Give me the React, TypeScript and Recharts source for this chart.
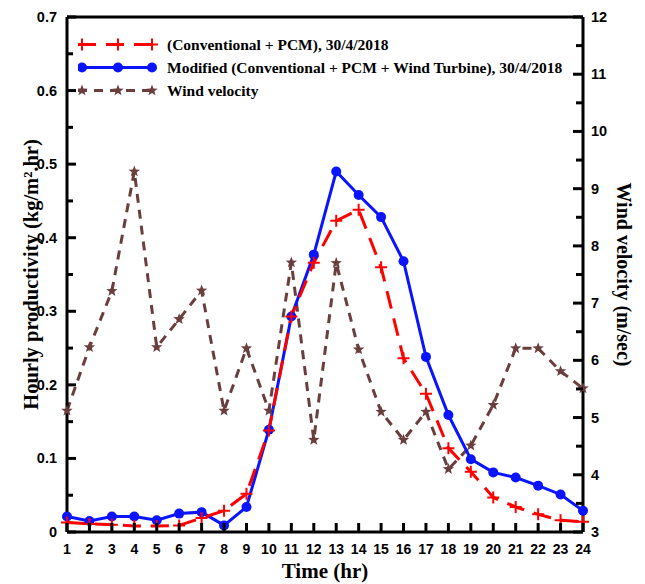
import { LineChart, Line, XAxis, YAxis, Legend, ReferenceLine } from "recharts";

const hours = [1, 2, 3, 4, 5, 6, 7, 8, 9, 10, 11, 12, 13, 14, 15, 16, 17, 18, 19, 20, 21, 22, 23, 24];
const conventional = [0.013, 0.011, 0.01, 0.008, 0.008, 0.009, 0.019, 0.029, 0.052, 0.138, 0.293, 0.366, 0.423, 0.438, 0.36, 0.236, 0.188, 0.114, 0.082, 0.047, 0.034, 0.024, 0.016, 0.014];
const modified = [0.021, 0.015, 0.021, 0.021, 0.016, 0.025, 0.027, 0.009, 0.034, 0.139, 0.293, 0.377, 0.49, 0.458, 0.428, 0.368, 0.238, 0.159, 0.099, 0.081, 0.074, 0.063, 0.051, 0.029];
const windVelocity = [5.12, 6.23, 7.21, 9.3, 6.23, 6.72, 7.22, 5.12, 6.21, 5.12, 7.71, 4.61, 7.7, 6.19, 5.1, 4.61, 5.1, 4.1, 4.51, 5.22, 6.21, 6.21, 5.81, 5.51];

const leftTicks = [0, 0.05, 0.1, 0.15, 0.2, 0.25, 0.3, 0.35, 0.4, 0.45, 0.5, 0.55, 0.6, 0.65, 0.7];
const rightTicks = [3, 3.5, 4, 4.5, 5, 5.5, 6, 6.5, 7, 7.5, 8, 8.5, 9, 9.5, 10, 10.5, 11, 11.5, 12];

const RED = "#ff0000";
const BLUE = "#0a14ff";
const BROWN = "#6b3e3e";
const SANS = "'Liberation Sans', Arial, sans-serif";
const SERIF = "'Liberation Serif', 'Times New Roman', serif";

const data = hours.map((h, i) => ({
  hour: h,
  conventional: conventional[i],
  modified: modified[i],
  wind: windVelocity[i],
}));

const isLeftMajor = (v: number) => Math.round(v * 100) % 10 === 0;

const starPoints = (cx: number, cy: number, r: number) => {
  const pts: string[] = [];
  for (let i = 0; i < 10; i++) {
    const rad = i % 2 === 0 ? r : r * 0.42;
    const a = -Math.PI / 2 + (i * Math.PI) / 5;
    pts.push(`${cx + rad * Math.cos(a)},${cy + rad * Math.sin(a)}`);
  }
  return pts.join(" ");
};

const PlusDot = (props: any) => {
  const { cx, cy, index } = props;
  if (cx == null || cy == null) return <g key={`p${index}`} />;
  return (
    <path
      key={`p${index}`}
      d={`M${cx - 6},${cy} h12 M${cx},${cy - 6} v12`}
      stroke={RED}
      strokeWidth={2}
      fill="none"
    />
  );
};

const StarDot = (props: any) => {
  const { cx, cy, index } = props;
  if (cx == null || cy == null) return <g key={`s${index}`} />;
  return <polygon key={`s${index}`} points={starPoints(cx, cy, 6)} fill={BROWN} />;
};

// tickLine is off; each tick draws its own inward mark (long on whole steps, short on half steps)
const LeftTick = (props: any) => {
  const x = Number(props.x);
  const y = Number(props.y);
  const v = Number(props.payload.value);
  const major = isLeftMajor(v);
  const axisX = x + 10;
  return (
    <g>
      <path d={`M${axisX},${y} H${axisX + (major ? 9 : 6)}`} stroke="#000" strokeWidth={3} />
      {major && (
        <text x={x} y={y} dy={5} textAnchor="end" fontFamily={SANS} fontWeight="bold" fontSize={14.5} fill="#000">
          {Number(v.toFixed(1)).toString()}
        </text>
      )}
    </g>
  );
};

const RightTick = (props: any) => {
  const x = Number(props.x);
  const y = Number(props.y);
  const v = Number(props.payload.value);
  const major = Number.isInteger(v);
  const axisX = x - 8;
  return (
    <g>
      <path d={`M${axisX},${y} H${axisX - (major ? 10 : 7)}`} stroke="#000" strokeWidth={3} />
      {major && (
        <text x={x} y={y} dy={5} textAnchor="start" fontFamily={SANS} fontWeight="bold" fontSize={14.5} fill="#000">
          {v}
        </text>
      )}
    </g>
  );
};

const BottomTick = (props: any) => {
  const x = Number(props.x);
  const y = Number(props.y);
  const axisY = y - 10;
  return (
    <g>
      <path d={`M${x},${axisY} V${axisY - 9}`} stroke="#000" strokeWidth={3} />
      <text x={x} y={y} dy={12} textAnchor="middle" fontFamily={SANS} fontWeight="bold" fontSize={14} fill="#000">
        {props.payload.value}
      </text>
    </g>
  );
};

const legendItems = [
  { label: "(Conventional + PCM), 30/4/2018", kind: "plus" },
  { label: "Modified (Conventional + PCM + Wind Turbine), 30/4/2018", kind: "circle" },
  { label: "Wind velocity", kind: "star" },
];

const LegendSample = ({ kind }: { kind: string }) => {
  const marks = [4, 40, 74];
  return (
    <svg width={80} height={23} style={{ display: "block" }}>
      {kind === "plus" && (
        <>
          <line x1={0} x2={78} y1={11.5} y2={11.5} stroke={RED} strokeWidth={3} strokeDasharray="18 10" />
          {marks.map((m) => (
            <path key={m} d={`M${m - 6},11.5 h12 M${m},5.5 v12`} stroke={RED} strokeWidth={2} />
          ))}
        </>
      )}
      {kind === "circle" && (
        <>
          <line x1={4} x2={76} y1={11.5} y2={11.5} stroke={BLUE} strokeWidth={3} />
          {marks.map((m) => (
            <circle key={m} cx={m} cy={11.5} r={5} fill={BLUE} />
          ))}
        </>
      )}
      {kind === "star" && (
        <>
          <line x1={0} x2={78} y1={11.5} y2={11.5} stroke={BROWN} strokeWidth={3} strokeDasharray="9 7" />
          {marks.map((m) => (
            <polygon key={m} points={starPoints(m, 11.5, 6)} fill={BROWN} />
          ))}
        </>
      )}
    </svg>
  );
};

const renderLegend = () => (
  <div>
    {legendItems.map((item) => (
      <div key={item.label} style={{ display: "flex", alignItems: "center", height: 23 }}>
        <LegendSample kind={item.kind} />
        <span
          style={{
            marginLeft: 9,
            fontFamily: SERIF,
            fontWeight: "bold",
            fontSize: 15.5,
            color: "#000",
            whiteSpace: "nowrap",
          }}
        >
          {item.label}
        </span>
      </div>
    ))}
  </div>
);

const LeftTitle = (props: any) => {
  const { viewBox } = props;
  const cx = viewBox.x + 31;
  const cy = viewBox.y + viewBox.height / 2;
  return (
    <text x={cx} y={cy} dy={7} transform={`rotate(-90 ${cx} ${cy})`} textAnchor="middle" fontFamily={SERIF} fontWeight="bold" fontSize={20.5} fill="#000">
      Hourly productivity (kg/m².hr)
    </text>
  );
};

const RightTitle = (props: any) => {
  const { viewBox } = props;
  const cx = viewBox.x + 41;
  const cy = viewBox.y + viewBox.height / 2;
  return (
    <text x={cx} y={cy} dy={7} transform={`rotate(90 ${cx} ${cy})`} textAnchor="middle" fontFamily={SERIF} fontWeight="bold" fontSize={20} fill="#000">
      Wind velocity (m/sec)
    </text>
  );
};

const BottomTitle = (props: any) => {
  const { viewBox } = props;
  return (
    <text x={viewBox.x + viewBox.width / 2} y={viewBox.y + 46} textAnchor="middle" fontFamily={SERIF} fontWeight="bold" fontSize={21} fill="#000">
      Time (hr)
    </text>
  );
};

const App = () => {
  return (
    <div style={{ position: "absolute", left: 0, top: 0, width: 645, height: 584, background: "#fff" }}>
      <LineChart width={645} height={584} data={data} margin={{ top: 17, right: 0, bottom: 0, left: 0 }}>
        <XAxis
          dataKey="hour"
          type="number"
          domain={[1, 24]}
          ticks={hours}
          interval={0}
          height={52}
          tickSize={0}
          tickMargin={10}
          tickLine={false}
          axisLine={{ stroke: "#000", strokeWidth: 3 }}
          tick={<BottomTick />}
          label={<BottomTitle />}
        />
        <YAxis
          yAxisId="left"
          domain={[0, 0.7]}
          ticks={leftTicks}
          interval={0}
          width={67}
          tickSize={0}
          tickMargin={10}
          tickLine={false}
          axisLine={{ stroke: "#000", strokeWidth: 3 }}
          tick={<LeftTick />}
          label={<LeftTitle />}
        />
        <YAxis
          yAxisId="right"
          orientation="right"
          domain={[3, 12]}
          ticks={rightTicks}
          interval={0}
          width={62}
          tickSize={0}
          tickMargin={8}
          tickLine={false}
          axisLine={{ stroke: "#000", strokeWidth: 3 }}
          tick={<RightTick />}
          label={<RightTitle />}
        />
        <ReferenceLine yAxisId="left" y={0.7} stroke="#000" strokeWidth={3} />
        <Legend
          layout="vertical"
          align="center"
          verticalAlign="middle"
          content={renderLegend}
          wrapperStyle={{ top: 33, left: 78, width: 540 }}
        />
        <Line
          yAxisId="right"
          type="linear"
          dataKey="wind"
          name="Wind velocity"
          stroke={BROWN}
          strokeWidth={3}
          strokeDasharray="9 7"
          dot={<StarDot />}
          activeDot={false}
          isAnimationActive={false}
        />
        <Line
          yAxisId="left"
          type="linear"
          dataKey="modified"
          name="Modified (Conventional + PCM + Wind Turbine), 30/4/2018"
          stroke={BLUE}
          strokeWidth={3}
          dot={{ r: 5, fill: BLUE, stroke: BLUE, strokeWidth: 0 }}
          activeDot={false}
          isAnimationActive={false}
        />
        <Line
          yAxisId="left"
          type="linear"
          dataKey="conventional"
          name="(Conventional + PCM), 30/4/2018"
          stroke={RED}
          strokeWidth={3}
          strokeDasharray="18 10"
          dot={<PlusDot />}
          activeDot={false}
          isAnimationActive={false}
        />
      </LineChart>
    </div>
  );
};

export default App;
